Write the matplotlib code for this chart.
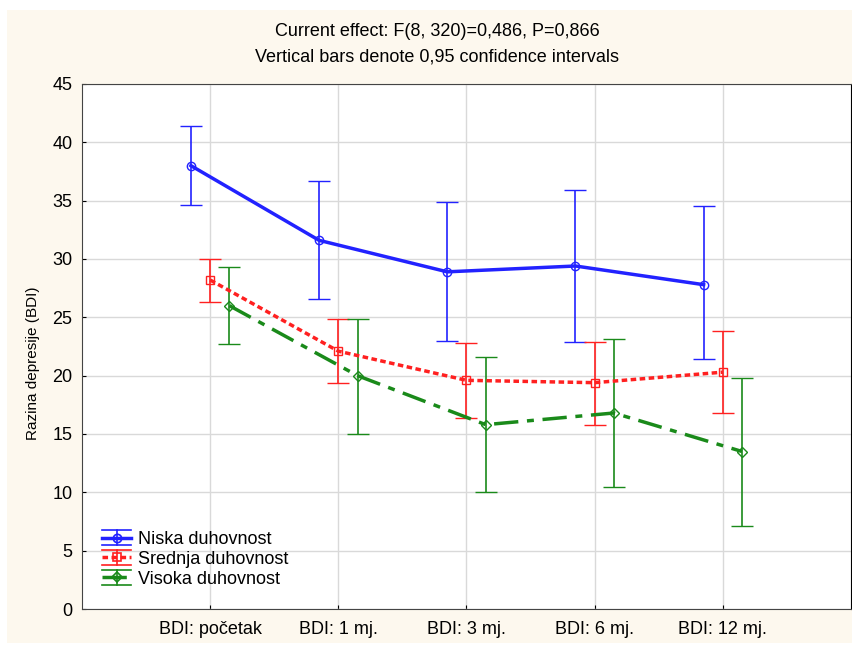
import matplotlib.pyplot as plt
from matplotlib.patches import Rectangle
from matplotlib.lines import Line2D
from matplotlib.legend_handler import HandlerBase
import numpy as np

plt.rcParams['font.family'] = ['Liberation Sans', 'DejaVu Sans']

categories = ['BDI: početak', 'BDI: 1 mj.', 'BDI: 3 mj.', 'BDI: 6 mj.', 'BDI: 12 mj.']
groups = ['Niska duhovnost', 'Srednja duhovnost', 'Visoka duhovnost']

niska_mean = [38.0, 31.6, 28.9, 29.4, 27.8]
niska_low = [34.6, 26.6, 23.0, 22.9, 21.4]
niska_high = [41.4, 36.7, 34.9, 35.9, 34.5]

srednja_mean = [28.2, 22.1, 19.6, 19.4, 20.3]
srednja_low = [26.3, 19.4, 16.4, 15.8, 16.8]
srednja_high = [30.0, 24.9, 22.8, 22.9, 23.8]

visoka_mean = [26.0, 20.0, 15.8, 16.8, 13.5]
visoka_low = [22.7, 15.0, 10.0, 10.5, 7.1]
visoka_high = [29.3, 24.9, 21.6, 23.1, 19.8]


class ErrHandler(HandlerBase):
    # legend key like the original: line with marker, caps above and below
    def create_artists(self, legend, orig, xd, yd, w, h, fontsize, trans):
        col, ls, mk, ms = orig
        x0, y0 = -xd, -yd
        cy = y0 + h / 2
        d = h * 0.6
        arts = [
            Line2D([x0, x0 + w], [cy + d, cy + d], color=col, lw=1.2),
            Line2D([x0, x0 + w], [cy - d, cy - d], color=col, lw=1.2),
            Line2D([x0 + w / 2, x0 + w / 2], [cy - d, cy + d], color=col, lw=1.2),
            Line2D([x0, x0 + w], [cy, cy], color=col, lw=2.5, linestyle=ls),
            Line2D([x0 + w / 2], [cy], color=col, marker=mk, markersize=ms,
                   markerfacecolor='none', markeredgewidth=1.2),
        ]
        for a in arts:
            a.set_transform(trans)
        return arts


fig = plt.figure(figsize=(8.53, 6.46), dpi=100)
fig.patches.append(Rectangle((7/853, 3/646), 1, 633/646, transform=fig.transFigure,
                             facecolor='#fdf8ee', edgecolor='none', zorder=-10))
ax = fig.add_axes([82/853, 37/646, 769/853, 525/646])

x = np.arange(len(categories))
series = [
    (niska_mean, niska_low, niska_high, -0.15, '#2222ff', '-', 'o', 6),
    (srednja_mean, srednja_low, srednja_high, 0.0, '#ff2020', (0, (1.6, 1.0)), 's', 6),
    (visoka_mean, visoka_low, visoka_high, 0.15, '#1a8a1a', (0, (7, 2.5, 2, 2.5)), 'D', 5),
]
handles = []
for m, lo, hi, off, col, ls, mk, ms in series:
    m = np.array(m)
    err = [m - np.array(lo), np.array(hi) - m]
    eb = ax.errorbar(x + off, m, yerr=err, color=col, linestyle=ls, linewidth=2.5,
                     marker=mk, markersize=ms, markerfacecolor='none',
                     markeredgewidth=1, elinewidth=1.2, capsize=8, capthick=1.2)
    handles.append((col, ls, mk, ms))

ax.set_xlim(-1, 5)
ax.set_ylim(0, 45)
ax.set_xticks(x)
ax.set_xticklabels(categories, fontsize=13)
ax.set_yticks(range(0, 50, 5))
ax.tick_params(axis='y', labelsize=13, length=3, direction='in', pad=7)
ax.tick_params(axis='x', length=3, direction='in', pad=9)
ax.grid(True, color='#d9d9d9', linewidth=1)
ax.set_axisbelow(True)
for s in ['left', 'bottom', 'top']:
    ax.spines[s].set_color('#444444')
ax.spines['right'].set_color('black')
ax.set_ylabel('Razina depresije (BDI)', fontsize=11)
ax.yaxis.set_label_coords(-0.055, 0.469)

fig.text(437/853, 1 - 32/646, 'Current effect: F(8, 320)=0,486, P=0,866', ha='center',
         va='center', fontsize=13)
fig.text(437/853, 1 - 57/646, 'Vertical bars denote 0,95 confidence intervals', ha='center',
         va='center', fontsize=13)

ax.legend(handles, groups, handler_map={tuple: ErrHandler()}, loc='lower left',
          bbox_to_anchor=(0.005, 0.01), frameon=False, fontsize=13,
          handlelength=1.6, handletextpad=0.4, labelspacing=0.15)

fig.savefig('out.png', dpi=100)
